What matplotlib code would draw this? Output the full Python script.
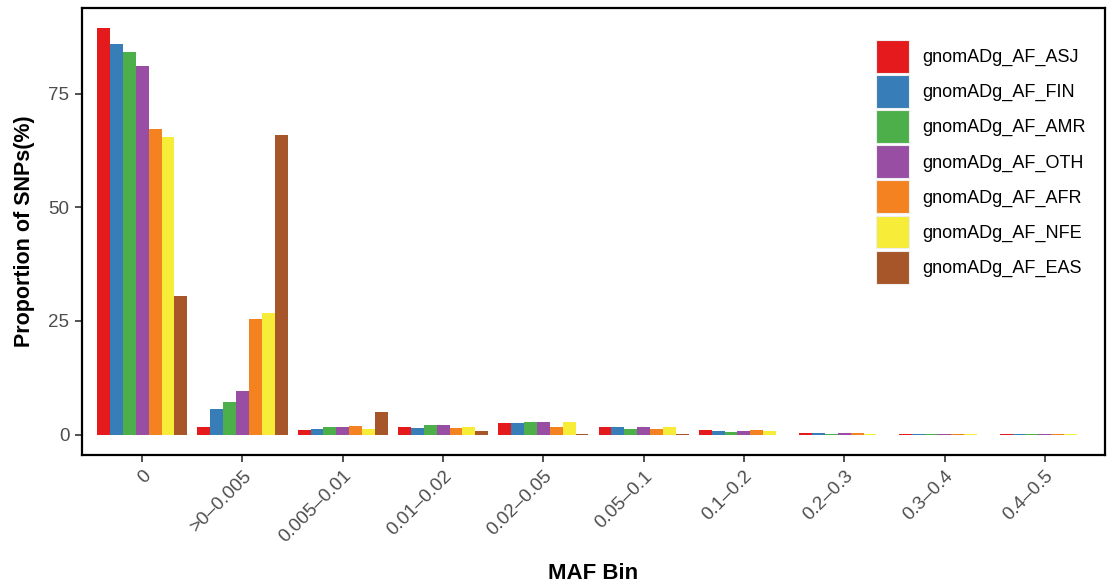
import numpy as np
import matplotlib
matplotlib.use("Agg")
import matplotlib.pyplot as plt

plt.rcParams["font.family"] = ["Liberation Sans", "DejaVu Sans"]

# MAF bins and the share of SNPs (%) in each bin per gnomAD population
bins = ["0", ">0\u20130.005", "0.005\u20130.01", "0.01\u20130.02", "0.02\u20130.05",
        "0.05\u20130.1", "0.1\u20130.2", "0.2\u20130.3", "0.3\u20130.4", "0.4\u20130.5"]

asj = [89.3, 1.7, 0.95, 1.75, 2.63, 1.6, 1.02, 0.3, 0.1, 0.05]
fin = [85.9, 5.6, 1.24, 1.46, 2.49, 1.67, 0.88, 0.3, 0.1, 0.05]
amr = [84.1, 7.1, 1.67, 2.05, 2.78, 1.3, 0.66, 0.1, 0.08, 0.05]
oth = [81.0, 9.5, 1.67, 2.05, 2.85, 1.67, 0.88, 0.3, 0.1, 0.05]
afr = [67.2, 25.4, 1.97, 1.46, 1.75, 1.17, 1.1, 0.44, 0.25, 0.1]
nfe = [65.5, 26.7, 1.17, 1.6, 2.7, 1.67, 0.88, 0.25, 0.1, 0.05]
eas = [30.5, 65.9, 4.97, 0.88, 0.05, 0.05, 0.03, 0.02, 0.02, 0.02]

pops = ["gnomADg_AF_ASJ", "gnomADg_AF_FIN", "gnomADg_AF_AMR", "gnomADg_AF_OTH",
        "gnomADg_AF_AFR", "gnomADg_AF_NFE", "gnomADg_AF_EAS"]
series = [asj, fin, amr, oth, afr, nfe, eas]
colors = ["#E41A1C", "#377EB8", "#4DAF4A", "#984EA3", "#F58220", "#F7EC37", "#A65628"]

fig = plt.figure(figsize=(11.13, 5.87), dpi=100)
ax = fig.add_axes([82 / 1113, 1 - 455 / 587, (1105 - 82) / 1113, (455 - 8) / 587])

x = np.arange(len(bins))
w = 0.9 / len(series)
for j, (vals, name, col) in enumerate(zip(series, pops, colors)):
    ax.bar(x + (j - 3) * w, vals, width=w, color=col, label=name, linewidth=0)

ax.set_xlim(-0.6, len(bins) - 0.4)
ax.set_ylim(-4.47, 93.8)
ax.set_yticks([0, 25, 50, 75])
ax.set_xticks(x)
ax.set_xticklabels(bins, rotation=45, ha="right", va="top", rotation_mode="anchor")

for s in ax.spines.values():
    s.set_linewidth(1.6)
    s.set_color("black")
ax.tick_params(axis="both", length=5, width=1.2, color="#333333",
               labelsize=13.5, labelcolor="#4D4D4D", pad=4)

ax.set_xlabel("MAF Bin", fontsize=16, fontweight="bold", labelpad=12)
ax.set_ylabel("Proportion of SNPs(%)", fontsize=15.5, fontweight="bold", labelpad=10)

leg = ax.legend(loc="upper left", bbox_to_anchor=(876 / 1113, 1 - 40 / 587),
                bbox_transform=fig.transFigure, frameon=False, fontsize=13,
                handlelength=1.83, handleheight=2.43, handletextpad=0.75,
                labelspacing=0.12, borderpad=0, borderaxespad=0)
for p in leg.get_patches():
    p.set_edgecolor("#EEEEEE")
    p.set_linewidth(0.8)

fig.savefig("out.png", dpi=100)
